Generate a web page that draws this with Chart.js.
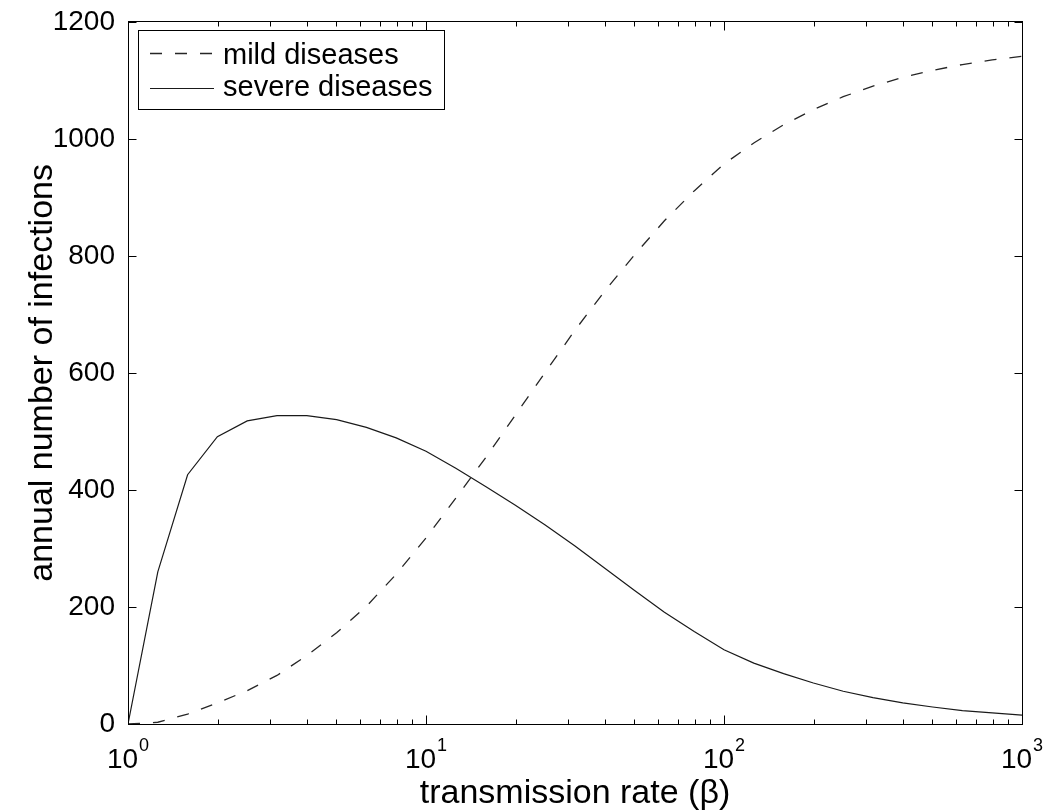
<!DOCTYPE html>
<html>
<head>
<meta charset="utf-8">
<script src="https://cdn.jsdelivr.net/npm/chart.js@4.4.1/dist/chart.umd.min.js"></script>
<style>
html,body{margin:0;padding:0;background:#fff;}
#wrap{width:1047px;height:811px;position:relative;}
</style>
</head>
<body>
<div id="wrap"><canvas id="c"></canvas></div>
<script>
// ---- data ----
const betaValues = [1, 1.259, 1.585, 1.995, 2.512, 3.162, 3.981, 5.012, 6.310, 7.943,
  10, 12.59, 15.85, 19.95, 25.12, 31.62, 39.81, 50.12, 63.10, 79.43,
  100, 125.9, 158.5, 199.5, 251.2, 316.2, 398.1, 501.2, 631.0, 794.3, 1000];
const mildInfections = [0, 3, 17, 36, 57, 83, 117, 156, 201, 256,
  318, 386, 455, 528, 601, 673, 740, 802, 860, 911,
  957, 993, 1024, 1050, 1072, 1090, 1105, 1117, 1127, 1135, 1141];
const severeInfections = [0, 260, 426, 491, 518, 527, 527, 520, 507, 489,
  466, 437, 406, 374, 340, 304, 266, 228, 191, 158,
  127, 104, 86, 70, 56, 45, 36, 29, 23, 19, 15];
const seriesLabels = ['mild diseases', 'severe diseases'];
const xMajorTicks = [1, 10, 100, 1000];
const xTickBase = '10';
const xTickExponents = ['0', '1', '2', '3'];
const xMinorMultipliers = [2, 3, 4, 5, 6, 7, 8, 9];
const yMin = 0, yMax = 1200, yStep = 200;
const xAxisTitle = 'transmission rate (\u03B2)';
const yAxisTitle = 'annual number of infections';

const FONT = '"Liberation Sans", Arial, Helvetica, sans-serif';
Chart.defaults.font.family = FONT;
Chart.defaults.color = '#000';

const toPoints = (vals) => betaValues.map((b, i) => ({x: b, y: vals[i]}));

const framePlugin = {
  id: 'frameTicks',
  beforeDraw(chart) {
    const ctx = chart.ctx;
    ctx.save();
    ctx.fillStyle = '#fff';
    ctx.fillRect(0, 0, chart.width, chart.height);
    ctx.restore();
  },
  afterDraw(chart) {
    const {ctx, chartArea, scales} = chart;
    const xs = scales.x, ys = scales.y;
    const L = Math.floor(chartArea.left) + 0.5;
    const R = Math.floor(chartArea.right) + 0.5;
    const T = Math.floor(chartArea.top) + 0.5;
    const B = Math.floor(chartArea.bottom) + 0.5;
    ctx.save();
    ctx.strokeStyle = '#000';
    ctx.lineWidth = 1;
    ctx.setLineDash([]);
    ctx.strokeRect(L, T, R - L, B - T);
    ctx.beginPath();
    // y ticks (inward, both sides)
    ys.ticks.forEach(t => {
      const py = Math.round(ys.getPixelForValue(t.value)) + 0.5;
      ctx.moveTo(L, py); ctx.lineTo(L + 8, py);
      ctx.moveTo(R, py); ctx.lineTo(R - 8, py);
    });
    // x ticks (inward, top and bottom)
    const drawX = (v, len) => {
      const px = Math.round(xs.getPixelForValue(v)) + 0.5;
      ctx.moveTo(px, B); ctx.lineTo(px, B - len);
      ctx.moveTo(px, T); ctx.lineTo(px, T + len);
    };
    xMajorTicks.forEach((m, i) => {
      drawX(m, 9);
      if (i < xMajorTicks.length - 1) xMinorMultipliers.forEach(k => drawX(m * k, 5));
    });
    ctx.stroke();
    // x tick labels with superscript exponent
    ctx.fillStyle = '#000';
    ctx.textBaseline = 'alphabetic';
    ctx.textAlign = 'left';
    xMajorTicks.forEach((m, i) => {
      const px = xs.getPixelForValue(m);
      ctx.font = '28px ' + FONT;
      const w1 = ctx.measureText(xTickBase).width;
      ctx.font = '18px ' + FONT;
      const w2 = ctx.measureText(xTickExponents[i]).width;
      const start = px - (w1 + w2 + 1) / 2;
      ctx.font = '28px ' + FONT;
      ctx.fillText(xTickBase, start, 768);
      ctx.font = '18px ' + FONT;
      ctx.fillText(xTickExponents[i], start + w1 + 1, 751);
    });
    // legend box
    const bx = 138.5, by = 30.5, bw = 306, bh = 79;
    ctx.fillStyle = '#fff';
    ctx.fillRect(bx, by, bw, bh);
    ctx.strokeStyle = '#000';
    ctx.strokeRect(bx, by, bw, bh);
    const rows = [{lineY: 53, textY: 64}, {lineY: 88, textY: 96}];
    chart.data.datasets.forEach((ds, i) => {
      ctx.save();
      ctx.strokeStyle = ds.borderColor;
      ctx.lineWidth = ds.borderWidth;
      ctx.setLineDash(ds.borderDash || []);
      ctx.beginPath();
      ctx.moveTo(150, rows[i].lineY + 0.5);
      ctx.lineTo(214, rows[i].lineY + 0.5);
      ctx.stroke();
      ctx.restore();
      ctx.fillStyle = '#000';
      ctx.font = '29px ' + FONT;
      ctx.fillText(ds.label, 223, rows[i].textY);
    });
    ctx.restore();
  }
};

new Chart(document.getElementById('c'), {
  type: 'line',
  data: {
    datasets: [
      {label: seriesLabels[0], data: toPoints(mildInfections), borderColor: '#262626', borderWidth: 1.3,
       borderDash: [12, 13], pointRadius: 0, tension: 0, fill: false},
      {label: seriesLabels[1], data: toPoints(severeInfections), borderColor: '#1a1a1a', borderWidth: 1.2,
       pointRadius: 0, tension: 0, fill: false}
    ]
  },
  options: {
    responsive: true,
    maintainAspectRatio: false,
    animation: false,
    events: [],
    layout: {padding: {left: 0, top: 20, right: 25, bottom: 0}},
    plugins: {legend: {display: false}, tooltip: {enabled: false}},
    scales: {
      x: {
        type: 'logarithmic', min: 1, max: 1000,
        grid: {display: false},
        border: {display: false},
        ticks: {display: false},
        title: {display: true, text: xAxisTitle, color: '#000',
                font: {size: 34, lineHeight: 1}, padding: {top: 0, bottom: 0}},
        afterFit(scale) { scale.height = 87; }
      },
      y: {
        type: 'linear', min: yMin, max: yMax,
        grid: {display: false},
        border: {display: false},
        ticks: {stepSize: yStep, color: '#000', font: {size: 28}, padding: 5,
                callback: (v) => String(v)},
        title: {display: true, text: yAxisTitle, color: '#000',
                font: {size: 34, lineHeight: 1}, padding: {top: 26, bottom: 0}},
        afterFit(scale) { scale.width = 128; }
      }
    }
  },
  plugins: [framePlugin]
});
</script>
</body>
</html>
